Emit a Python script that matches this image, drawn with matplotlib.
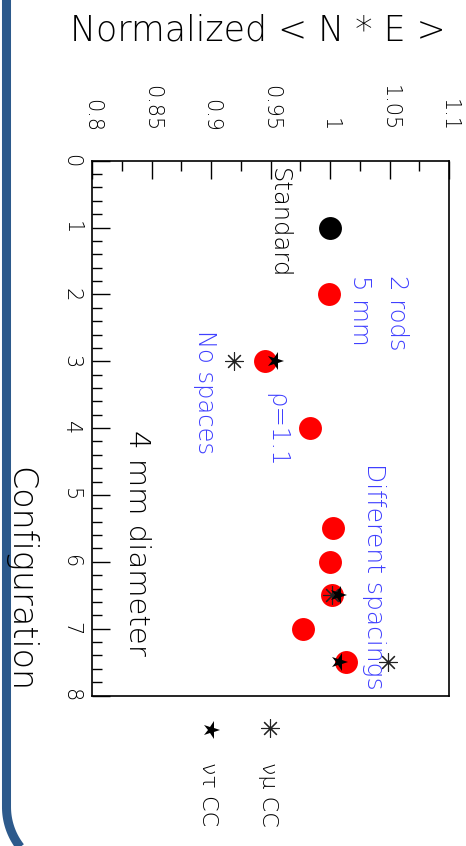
import matplotlib
matplotlib.use("Agg")
import numpy as np
import matplotlib.pyplot as plt
from matplotlib.markers import MarkerStyle
from matplotlib.transforms import Affine2D

plt.rcParams['font.family'] = ['DejaVu Sans']
plt.rcParams['font.weight'] = 'light'
plt.rcParams['axes.labelweight'] = 'light'

# Normalized <N*E> for each detector configuration
ref_config = [1.0]
ref_value = [1.000]

red_config = [2.0, 3.0, 4.0, 5.5, 6.0, 6.5, 7.0, 7.5]
red_value = [0.999, 0.945, 0.983, 1.0025, 1.000, 1.002, 0.977, 1.013]

numu_config = [3.0, 6.5, 7.5]
numu_value = [0.919, 1.0015, 1.0485]

nutau_config = [3.0, 6.5, 7.5]
nutau_value = [0.9535, 1.0065, 1.0073]

x_ticks = [0.8, 0.85, 0.9, 0.95, 1.0, 1.05, 1.1]
x_tick_labels = ["0.8", "0.85", "0.9", "0.95", "1", "1.05", "1.1"]
y_ticks = [0, 1, 2, 3, 4, 5, 6, 7, 8]

# (x value, configuration, text, colour, size)
notes = [
    (0.957, 0.11, "Standard", "black", 17.5),
    (1.056, 1.71, "2 rods", "blue", 17.5),
    (1.025, 1.71, "5 mm", "blue", 17.5),
    (0.895, 2.53, "No spaces", "blue", 17.5),
    (0.955, 3.47, "ρ=1.1", "blue", 17.5),
    (0.838, 4.03, "4 mm diameter", "black", 21),
    (1.037, 4.52, "Different spacings", "blue", 18),
]

W, H = 466, 846
fig = plt.figure(figsize=(W / 100, H / 100), dpi=100)

# slide decoration: blue frame with a rounded lower-left corner
bg = fig.add_axes([0, 0, 1, 1], zorder=0)
bg.set_xlim(0, W)
bg.set_ylim(H, 0)
bg.axis('off')
frame_blue = '#2d5a8c'
r, x0, y0 = 65.0, 6.5, 807.0
t = np.linspace(0, np.pi / 2, 60)
fx = np.concatenate([[x0], x0 + r - r * np.cos(t)])
fy = np.concatenate([[-20], y0 + r * np.sin(t)])
bg.plot(fx, fy, color=frame_blue, linewidth=6.5, solid_capstyle='butt')

left, right, top, bottom = 92.3, 449, 160.7, 695.5
ax = fig.add_axes([left / W, 1 - bottom / H, (right - left) / W, (bottom - top) / H],
                  zorder=1)
ax.set_xlim(0.8, 1.1)
ax.set_ylim(8, 0)

ax.xaxis.tick_top()
ax.set_xticks(x_ticks)
ax.set_xticklabels(x_tick_labels)
ax.set_xticks([0.825 + 0.05 * i for i in range(6)], minor=True)
ax.set_yticks(y_ticks)
ax.set_yticks([i * 0.2 for i in range(41) if i % 5], minor=True)
ax.tick_params(axis='both', which='both', direction='in', color='black', width=1)
ax.tick_params(axis='both', which='major', length=13)
ax.tick_params(axis='both', which='minor', length=7)
ax.tick_params(axis='x', which='major', labelsize=15, pad=21, labelrotation=-90)
ax.tick_params(axis='y', which='major', labelsize=15, pad=8, labelrotation=-90)
for lab in ax.get_yticklabels():
    lab.set_va('center')
for sp in ax.spines.values():
    sp.set_linewidth(1.2)

ax.plot(ref_value, ref_config, 'o', color='black', ms=16.5, mew=0, zorder=3)
ax.plot(red_value, red_config, 'o', color='red', ms=16.5, mew=0, zorder=3)
asterisk = MarkerStyle((8, 2, 0))
star = MarkerStyle('*', transform=Affine2D().rotate_deg(-90))
ax.plot(numu_value, numu_config, linestyle='none', marker=asterisk, color='#222222',
        ms=13, mew=0.8, zorder=4)
ax.plot(nutau_value, nutau_config, linestyle='none', marker=star, color='black',
        ms=13, mew=0, zorder=5)

text_blue = '#3f3fff'
for xv, yv, txt, col, fs in notes:
    ax.text(xv, yv, txt, rotation=-90, ha='center', va='top', fontsize=fs,
            color=text_blue if col == 'blue' else 'black', zorder=6)

ax.set_xlabel("Normalized < N * E >", fontsize=25, fontweight='light')
ax.xaxis.set_label_position('top')
ax.xaxis.label.set_ha('right')
ax.xaxis.label.set_va('center')
ax.xaxis.set_label_coords((446 - left) / (right - left), (bottom - 30) / (bottom - top))

ax.set_ylabel("Configuration", fontsize=24, rotation=-90, fontweight='light')
ax.yaxis.label.set_rotation_mode('default')
ax.yaxis.label.set_ha('center')
ax.yaxis.label.set_va('bottom')
ax.yaxis.set_label_coords((20 - left) / (right - left), (bottom - 692) / (bottom - top))

# legend drawn below the frame
bg.plot([211], [730], linestyle='none', marker=star, color='black', ms=13, mew=0)
bg.plot([270], [728], linestyle='none', marker=asterisk, color='#222222', ms=13, mew=0.8)
bg.text(208, 762, "ντ CC", rotation=-90, ha='center', va='top', fontsize=16)
bg.text(268, 762, "νμ CC", rotation=-90, ha='center', va='top', fontsize=16)

fig.savefig("out.png", dpi=100)
